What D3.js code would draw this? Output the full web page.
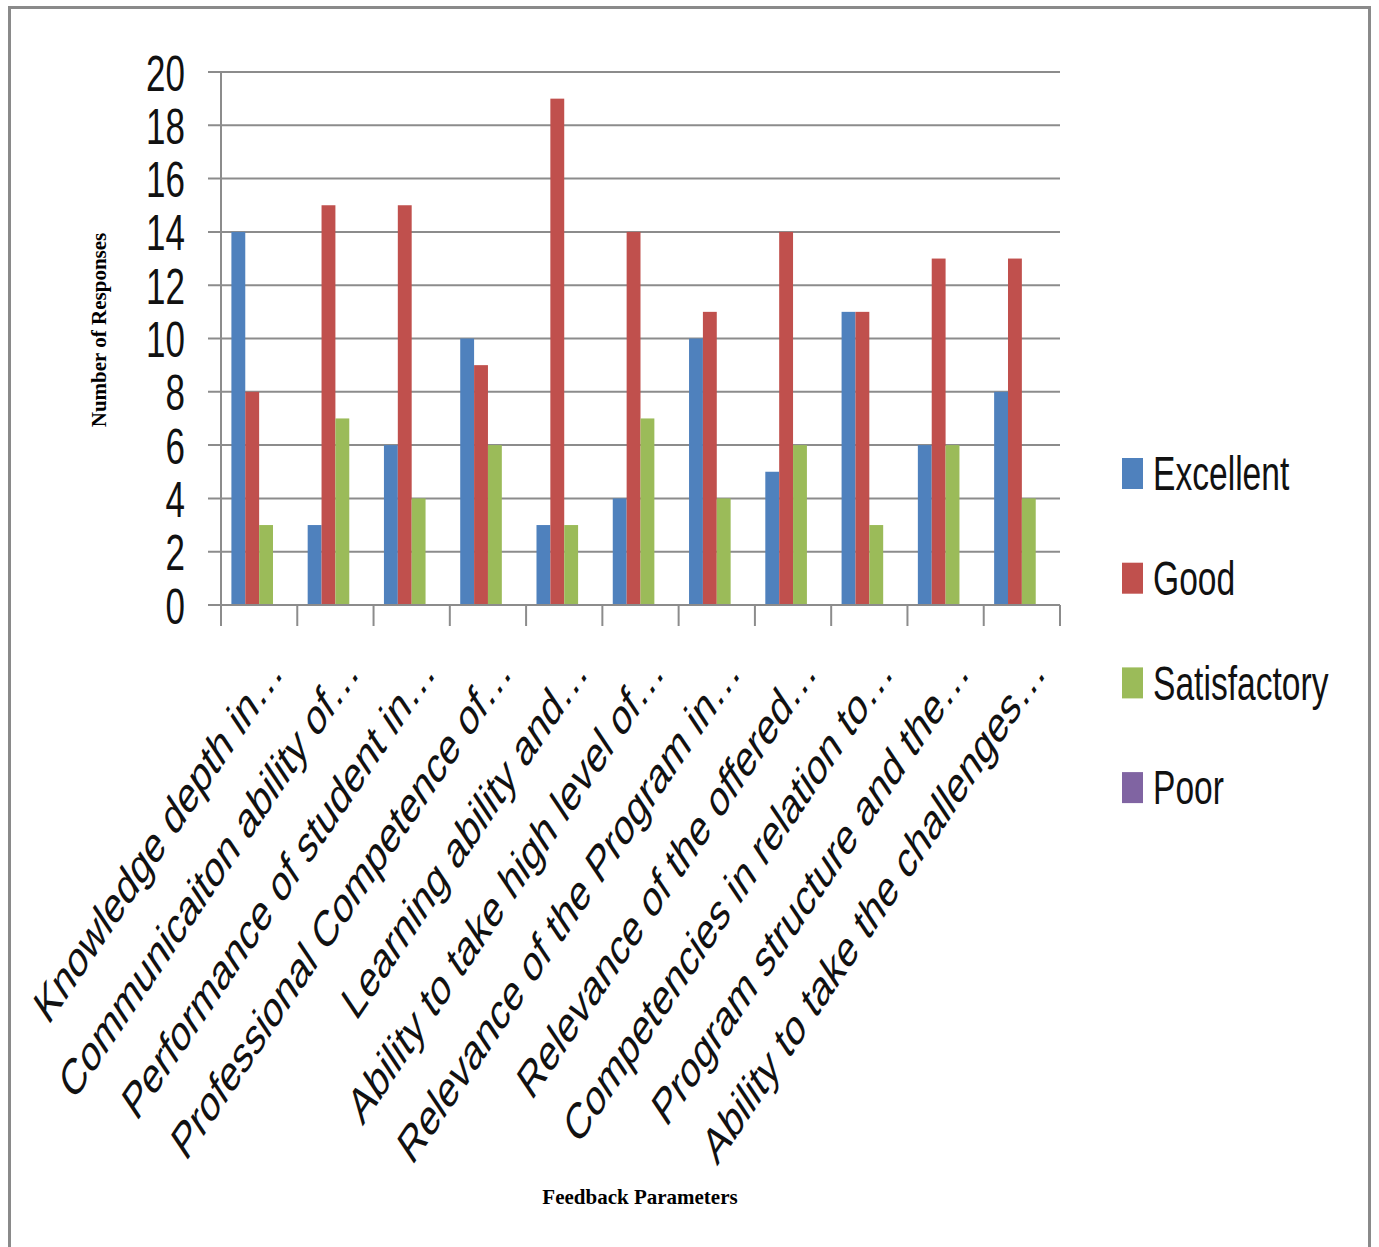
<!DOCTYPE html>
<html>
<head>
<meta charset="utf-8">
<script src="https://cdn.jsdelivr.net/npm/d3@7"></script>
<style>
  body { margin: 0; background: #fff; }
  svg { display: block; }
</style>
</head>
<body>
<div id="chart-area"></div>
<script>
// chart data
var categories = [
	"Knowledge depth in…",
	"Communicaiton ability of…",
	"Performance of student in…",
	"Professional Competence of…",
	"Learning ability and…",
	"Ability to take high level of…",
	"Relevance of the Program in…",
	"Relevance of the offered…",
	"Competencies in relation to…",
	"Program structure and the…",
	"Ability to take the challenges…"
];
var seriesNames = ["Excellent", "Good", "Satisfactory", "Poor"];
var excellent    = [14, 3, 6, 10, 3, 4, 10, 5, 11, 6, 8];
var good         = [8, 15, 15, 9, 19, 14, 11, 14, 11, 13, 13];
var satisfactory = [3, 7, 4, 6, 3, 7, 4, 6, 3, 6, 4];
var poor         = [0, 0, 0, 0, 0, 0, 0, 0, 0, 0, 0];
var yTicks = [0, 2, 4, 6, 8, 10, 12, 14, 16, 18, 20];

var colors = ["#4F81BD", "#C0504D", "#9BBB59", "#8064A2"];
var allSeries = [excellent, good, satisfactory, poor];

var W = 1379, H = 1247;
var plot = { left: 221, right: 1060, top: 72, bottom: 605 };
var squash = 0.7; // text in the picture is narrowed horizontally
var font = "'Liberation Sans', Arial, sans-serif";

var svg = d3.select("#chart-area")
	.append("svg")
	.attr("width", W)
	.attr("height", H);

// outer frame
svg.append("rect")
	.attr("x", 9.5).attr("y", 7.5)
	.attr("width", 1360).attr("height", 1260)
	.attr("fill", "none")
	.attr("stroke", "#8a8a8a")
	.attr("stroke-width", 3);

var x0 = d3.scaleBand()
	.domain(categories)
	.range([plot.left, plot.right])
	.padding(0);

var barW = x0.bandwidth() / 5.5;
var x1 = d3.scaleBand()
	.domain(seriesNames)
	.range([barW * 0.75, x0.bandwidth() - barW * 0.75])
	.padding(0);

var y = d3.scaleLinear()
	.domain([0, 20])
	.range([plot.bottom, plot.top]);

// gridlines
svg.append("g")
	.selectAll("line")
	.data(yTicks)
	.enter()
	.append("line")
		.attr("x1", plot.left - 13)
		.attr("x2", plot.right)
		.attr("y1", function(d){ return y(d); })
		.attr("y2", function(d){ return y(d); })
		.attr("stroke", "#8c8c8c")
		.attr("stroke-width", 2);

// y axis
var yAxis = svg.append("g")
	.attr("transform", "translate(" + plot.left + ",0)")
	.call(d3.axisLeft(y).tickValues(yTicks).tickSize(0).tickPadding(0));
yAxis.select(".domain").remove();
yAxis.selectAll("text")
	.attr("x", 0)
	.attr("dy", "0.36em")
	.attr("transform", "translate(-36,0) scale(" + squash + ",1)")
	.attr("font-family", font)
	.attr("font-size", 50)
	.attr("fill", "#111");

svg.append("line")
	.attr("x1", plot.left).attr("x2", plot.left)
	.attr("y1", plot.top).attr("y2", plot.bottom + 21)
	.attr("stroke", "#8c8c8c")
	.attr("stroke-width", 2);

// bars
var groups = svg.append("g")
	.selectAll("g")
	.data(categories)
	.enter()
	.append("g")
		.attr("transform", function(d){ return "translate(" + x0(d) + ",0)"; });

groups.selectAll("rect")
	.data(function(d, i){
		return seriesNames.map(function(s, j){ return { key: s, value: allSeries[j][i], c: colors[j] }; });
	})
	.enter()
	.append("rect")
		.attr("x", function(d){ return x1(d.key); })
		.attr("y", function(d){ return y(d.value); })
		.attr("width", x1.bandwidth())
		.attr("height", function(d){ return y(0) - y(d.value); })
		.attr("fill", function(d){ return d.c; });

// x axis line and boundary ticks
svg.append("line")
	.attr("x1", plot.left - 13).attr("x2", plot.right)
	.attr("y1", plot.bottom).attr("y2", plot.bottom)
	.attr("stroke", "#8c8c8c")
	.attr("stroke-width", 2);

svg.append("g")
	.selectAll("line")
	.data(d3.range(categories.length + 1))
	.enter()
	.append("line")
		.attr("x1", function(i){ return plot.left + i * x0.step(); })
		.attr("x2", function(i){ return plot.left + i * x0.step(); })
		.attr("y1", plot.bottom)
		.attr("y2", plot.bottom + 21)
		.attr("stroke", "#8c8c8c")
		.attr("stroke-width", 2);

// category labels (rotated)
var xAxis = svg.append("g")
	.attr("transform", "translate(0," + plot.bottom + ")")
	.call(d3.axisBottom(x0).tickSize(0));
xAxis.select(".domain").remove();
xAxis.selectAll("text")
	.attr("x", 0).attr("y", 0)
	.attr("dy", "0.35em")
	.attr("text-anchor", "end")
	.attr("transform", "translate(17,56) scale(0.67,1) rotate(-45)")
	.attr("font-family", font)
	.attr("font-size", 51)
	.attr("fill", "#111");

// legend
var legend = svg.append("g")
	.selectAll("g")
	.data(seriesNames)
	.enter()
	.append("g")
		.attr("transform", function(d, i){ return "translate(1122," + (473 + i * 104.7) + ")"; });

legend.append("rect")
	.attr("x", 0).attr("y", -15)
	.attr("width", 21).attr("height", 31)
	.attr("fill", function(d, i){ return colors[i]; });

legend.append("text")
	.attr("transform", "translate(31,0) scale(" + squash + ",1)")
	.attr("dy", "0.36em")
	.attr("font-family", font)
	.attr("font-size", 48)
	.attr("fill", "#111")
	.text(function(d){ return d; });

// axis titles
svg.append("text")
	.attr("transform", "translate(106,330) rotate(-90)")
	.attr("text-anchor", "middle")
	.attr("font-family", "'Liberation Serif', 'Times New Roman', serif")
	.attr("font-weight", "bold")
	.attr("font-size", 21)
	.text("Number of Responses");

svg.append("text")
	.attr("x", 640).attr("y", 1204)
	.attr("text-anchor", "middle")
	.attr("font-family", "'Liberation Serif', 'Times New Roman', serif")
	.attr("font-weight", "bold")
	.attr("font-size", 21)
	.text("Feedback Parameters");
</script>
</body>
</html>
